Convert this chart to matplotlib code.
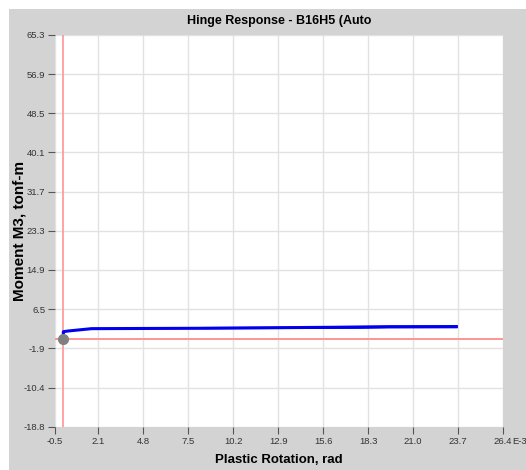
import matplotlib
matplotlib.use('Agg')
import matplotlib.pyplot as plt
from matplotlib.patches import Rectangle

plt.rcParams['font.family'] = ['Liberation Sans', 'DejaVu Sans']

# hinge response curve (rotation in E-3 rad, moment in tonf-m)
rotation = [0.0, 0.0, 0.3, 1.0, 1.7, 8.2, 16.4, 19.5, 23.6]
moment = [0.0, 1.65, 1.8, 2.05, 2.3, 2.38, 2.6, 2.73, 2.75]
# overlapping later branch (makes the end of the curve look thicker)
rotation_b = [8.5, 17.8, 19.5, 23.6]
moment_b = [2.42, 2.5, 2.6, 2.62]

x_ticks = [-0.5, 2.1, 4.8, 7.5, 10.2, 12.9, 15.6, 18.3, 21.0, 23.7, 26.4]
y_ticks = [-18.8, -10.4, -1.9, 6.5, 14.9, 23.3, 31.7, 40.1, 48.5, 56.9, 65.3]

W, H = 526, 470
fig = plt.figure(figsize=(W / 100, H / 100), dpi=100, facecolor='white')
# grey panel behind the chart
fig.add_artist(Rectangle((9 / W, 0), 1, 1 - 9 / H, transform=fig.transFigure,
                         facecolor='#d3d3d3', edgecolor='none', zorder=-1))

ax = fig.add_axes([55 / W, 1 - 427 / H, 448 / W, 392 / H])
ax.set_zorder(1)
ax.set_facecolor('white')
for s in ax.spines.values():
    s.set_visible(False)

ax.set_xlim(-0.5, 26.4)
ax.set_ylim(-18.8, 65.3)
ax.set_xticks(x_ticks)
ax.set_yticks(y_ticks)
ax.set_xticklabels([f'{v:.1f}' for v in x_ticks])
ax.set_yticklabels([f'{v:.1f}' for v in y_ticks])
ax.tick_params(labelsize=6.8, labelcolor='#333333', color='#555555',
               length=5, width=0.8, pad=2)
ax.grid(True, color='#e2e2e2', linewidth=1)
ax.set_axisbelow(True)

ax.axvline(0, color='#ff9494', linewidth=1.2, zorder=2)
ax.axhline(0, color='#ff9494', linewidth=1.4, zorder=2)

ax.plot(rotation, moment, color='#0000ee', linewidth=2.2, zorder=3)
ax.plot(rotation_b, moment_b, color='#0000ee', linewidth=1.6, zorder=3)
ax.plot([0], [0], 'o', color='#808080', markersize=7, zorder=4)

ax.annotate('E-3', xy=(26.4, -18.8), xytext=(6.5, -7), textcoords='offset points',
            fontsize=6.8, color='#333333', ha='left', va='top', annotation_clip=False)

ax.set_title('Hinge Response - B16H5 (Auto', fontsize=9, fontweight='bold', pad=8)
ax.set_xlabel('Plastic Rotation, rad', fontsize=9.5, fontweight='bold', labelpad=6)
ax.set_ylabel('Moment M3, tonf-m', fontsize=11, fontweight='bold')
ax.yaxis.set_label_coords(-28 / 448, 0.5)

fig.savefig('out.png', dpi=100, facecolor='white')
